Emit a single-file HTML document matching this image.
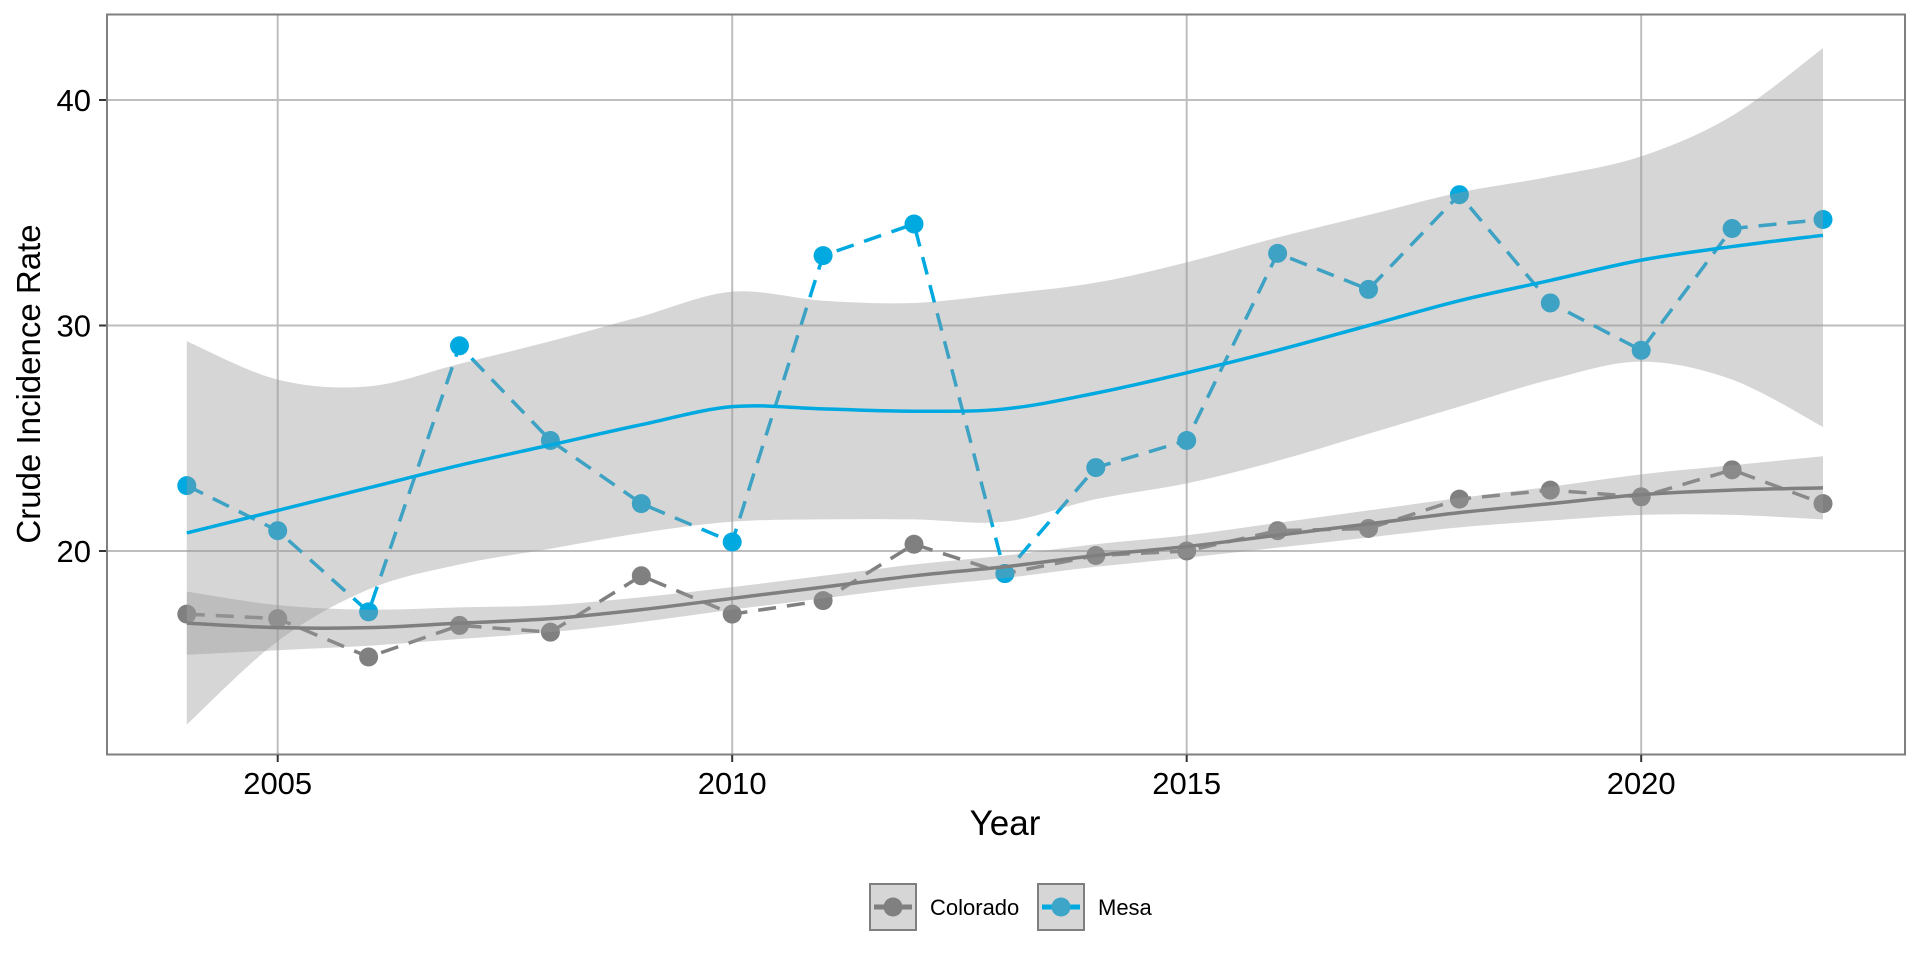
<!DOCTYPE html>
<html><head><meta charset="utf-8"><style>
html,body{margin:0;padding:0;background:#fff;}
svg{display:block;font-family:"Liberation Sans",Arial,sans-serif;}
</style></head><body>
<svg id="s" width="1920" height="960" viewBox="0 0 1920 960" xmlns="http://www.w3.org/2000/svg">
<rect x="0" y="0" width="1920" height="960" fill="#fff"/>
<g id="grid" stroke="#bebebe" stroke-width="2"></g>
<g id="data"></g>
<rect x="107" y="14.5" width="1798" height="740" fill="none" stroke="#7f7f7f" stroke-width="2"/>
<g id="ticks" stroke="#333" stroke-width="2"></g>
<g id="labels" font-size="31" fill="#000"></g>
<text x="1005" y="835" font-size="35" text-anchor="middle">Year</text>
<text transform="translate(40,384) rotate(-90)" font-size="33" text-anchor="middle">Crude Incidence Rate</text>
<g>
<rect x="870" y="884" width="46" height="46" fill="#d6d6d6" stroke="#7f7f7f" stroke-width="2"/>
<line x1="874" y1="907" x2="912" y2="907" stroke="#7f7f7f" stroke-width="5"/>
<circle cx="893" cy="907" r="9.5" fill="#808080"/>
<text x="930" y="915" font-size="22">Colorado</text>
<rect x="1038" y="884" width="46" height="46" fill="#d6d6d6" stroke="#7f7f7f" stroke-width="2"/>
<line x1="1042" y1="907" x2="1080" y2="907" stroke="#00a9e0" stroke-width="5"/>
<circle cx="1061" cy="907" r="9.5" fill="#3da5c7"/>
<text x="1098" y="915" font-size="22">Mesa</text>
</g>
</svg>
<script>
var NS="http://www.w3.org/2000/svg";
function X(yr){return 186.8+(yr-2004)*90.9;}
function Y(v){return 551-(v-20)*22.55;}
function el(t,a,p){var e=document.createElementNS(NS,t);for(var k in a)e.setAttribute(k,a[k]);p.appendChild(e);return e;}
var grid=document.getElementById('grid'),ticks=document.getElementById('ticks'),labels=document.getElementById('labels'),data=document.getElementById('data');
[2005,2010,2015,2020].forEach(function(y){var x=X(y);el('line',{x1:x,y1:15,x2:x,y2:754},grid);el('line',{x1:x,y1:755,x2:x,y2:762},ticks);var t=el('text',{x:x,y:794,'text-anchor':'middle'},labels);t.textContent=y;});
[20,30,40].forEach(function(v){var y=Y(v);el('line',{x1:107,y1:y,x2:1905,y2:y},grid);el('line',{x1:99,y1:y,x2:106,y2:y},ticks);var t=el('text',{x:91,y:y+11,'text-anchor':'end'},labels);t.textContent=v;});
var mesa=[22.9,20.9,17.3,29.1,24.9,22.1,20.4,33.1,34.5,19.0,23.7,24.9,33.2,31.6,35.8,31.0,28.9,34.3,34.7];
var col=[17.2,17.0,15.3,16.7,16.4,18.9,17.2,17.8,20.3,19.0,19.8,20.0,20.9,21.0,22.3,22.7,22.4,23.6,22.1];
var ms=[20.8,21.8,22.8,23.8,24.7,25.6,26.4,26.3,26.2,26.3,27.0,27.9,28.9,30.0,31.1,32.0,32.9,33.5,34.0];
var mu=[29.3,27.6,27.3,28.3,29.3,30.4,31.5,31.1,31.0,31.4,31.9,32.8,33.9,34.9,35.9,36.6,37.5,39.3,42.3];
var ml=[12.3,16.0,18.3,19.4,20.1,20.8,21.3,21.4,21.4,21.3,22.3,23.0,24.0,25.2,26.4,27.6,28.4,27.6,25.5];
var cs=[16.8,16.6,16.6,16.8,17.0,17.4,17.9,18.4,18.9,19.3,19.8,20.2,20.7,21.2,21.7,22.1,22.5,22.7,22.8];
var cw=[1.4,1.0,0.8,0.7,0.6,0.55,0.5,0.5,0.5,0.5,0.5,0.5,0.55,0.6,0.65,0.75,0.9,1.1,1.4];
function pts(arr){return arr.map(function(v,i){return X(2004+i).toFixed(1)+','+Y(v).toFixed(1);}).join(' ');}
function curve(p,start){var d=start?'M'+p[0][0]+','+p[0][1]:' L'+p[0][0]+','+p[0][1];
for(var i=0;i<p.length-1;i++){var p0=p[Math.max(0,i-1)],p1=p[i],p2=p[i+1],p3=p[Math.min(p.length-1,i+2)];
d+=' C'+(p1[0]+(p2[0]-p0[0])/6)+','+(p1[1]+(p2[1]-p0[1])/6)+' '+(p2[0]-(p3[0]-p1[0])/6)+','+(p2[1]-(p3[1]-p1[1])/6)+' '+p2[0]+','+p2[1];}return d;}
function P(arr){return arr.map(function(v,i){return [X(2004+i),Y(v)];});}
el('polyline',{points:pts(col),fill:'none',stroke:'#808080','stroke-width':3.5,'stroke-dasharray':'18,11'},data);
el('polyline',{points:pts(mesa),fill:'none',stroke:'#00a9e0','stroke-width':3.5,'stroke-dasharray':'18,11'},data);
col.forEach(function(v,i){el('circle',{cx:X(2004+i),cy:Y(v),r:9.5,fill:'#808080'},data);});
mesa.forEach(function(v,i){el('circle',{cx:X(2004+i),cy:Y(v),r:9.5,fill:'#00a9e0'},data);});
function ribbon(up,lo){return curve(P(up),true)+curve(P(lo).reverse(),false)+' Z';}
el('path',{d:ribbon(mu,ml),fill:'#999','fill-opacity':0.4},data);
el('path',{d:ribbon(cs.map(function(v,i){return v+cw[i];}),cs.map(function(v,i){return v-cw[i];})),fill:'#999','fill-opacity':0.4},data);
el('path',{d:curve(P(ms),true),fill:'none',stroke:'#00a9e0','stroke-width':3.5},data);
el('path',{d:curve(P(cs),true),fill:'none',stroke:'#7f7f7f','stroke-width':3.5},data);
</script>
</body></html>
